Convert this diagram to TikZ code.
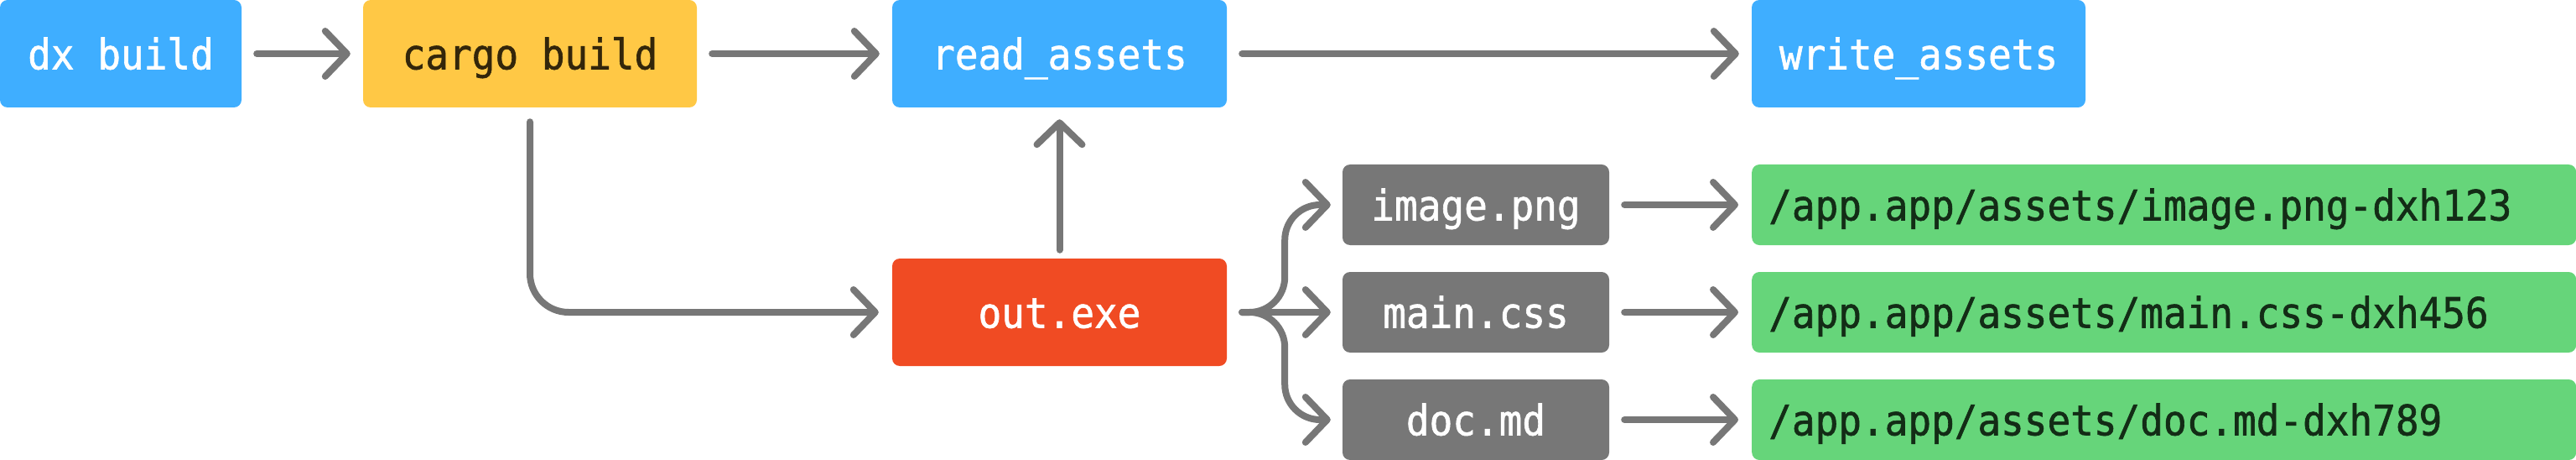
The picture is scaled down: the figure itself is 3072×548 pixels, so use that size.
\documentclass[tikz,border=0pt]{standalone}
\usepackage{fontspec}
\newfontfamily\codefont[FakeStretch=0.92, FakeBold=1.2]{DejaVu Sans Mono}
\usetikzlibrary{arrows.meta}
\definecolor{cblue}{HTML}{3FAEFF}
\definecolor{cyellow}{HTML}{FFC845}
\definecolor{cred}{HTML}{F04B23}
\definecolor{cgray}{HTML}{777777}
\definecolor{cgreen}{HTML}{66D57A}
\definecolor{cgreentext}{HTML}{132C16}
\definecolor{cyellowtext}{HTML}{33260A}
\definecolor{cline}{HTML}{777777}
\tikzset{
  box/.style={rounded corners=9pt, inner sep=0pt, text height=37pt, text depth=0pt,
    font=\codefont\fontsize{50}{54}\selectfont},
  bigbox/.style={box, minimum height=128pt},
  smallbox/.style={box, minimum height=96pt},
  bluebox/.style={bigbox, fill=cblue, text=white},
  yellowbox/.style={bigbox, fill=cyellow, text=cyellowtext},
  redbox/.style={bigbox, fill=cred, text=white},
  graybox/.style={smallbox, fill=cgray, text=white, minimum width=318pt},
  greenbox/.style={smallbox, fill=cgreen, text=cgreentext, text width=943pt, align=left, inner xsep=20pt, anchor=west},
  conn/.style={draw=cline, line width=8pt, line cap=round, line join=round,
    -{Straight Barb[round, length=26pt, width=54pt]}, shorten <=18pt, shorten >=15pt},
}
\begin{document}
\begin{tikzpicture}[x=1pt,y=-1pt]
\useasboundingbox (0,0) rectangle (3072,548);
% top row
\node[bluebox, minimum width=288pt] (dx) at (144,64) {dx build};
\node[yellowbox, minimum width=398pt] (cargo) at (632,64) {cargo build};
\node[bluebox, minimum width=399pt] (read) at (1263.5,64) {read\_assets};
\node[bluebox, minimum width=398pt] (write) at (2288,64) {write\_assets};
% out.exe
\node[redbox, minimum width=399pt] (out) at (1263.5,372) {out.exe};
% gray files
\node[graybox] (img) at (1760,244) {image.png};
\node[graybox] (css) at (1760,372) {main.css};
\node[graybox] (doc) at (1760,500) {doc.md};
% green targets
\node[greenbox] (gimg) at (2089,244) {/app.app/assets/image.png-dxh123};
\node[greenbox] (gcss) at (2089,372) {/app.app/assets/main.css-dxh456};
\node[greenbox] (gdoc) at (2089,500) {/app.app/assets/doc.md-dxh789};
% connectors
\draw[conn] (dx) -- (cargo);
\draw[conn] (cargo) -- (read);
\draw[conn] (read) -- (write);
\draw[conn, shorten <=10pt, shorten >=14pt] (out) -- (read);
\draw[conn, shorten <=17pt, shorten >=16pt, rounded corners=46pt] (cargo.south) |- (out.west);
\coordinate (bv) at ([xshift=69pt]out.east);
\draw[conn, shorten >=14pt, rounded corners=42pt] (out.east) -- (bv) |- (img.west);
\draw[conn, shorten >=14pt] (out.east) -- (css.west);
\draw[conn, shorten >=14pt, rounded corners=42pt] (out.east) -- (bv) |- (doc.west);
\draw[conn, shorten >=16pt] (img) -- (gimg);
\draw[conn, shorten >=16pt] (css) -- (gcss);
\draw[conn, shorten >=16pt] (doc) -- (gdoc);
\end{tikzpicture}
\end{document}
